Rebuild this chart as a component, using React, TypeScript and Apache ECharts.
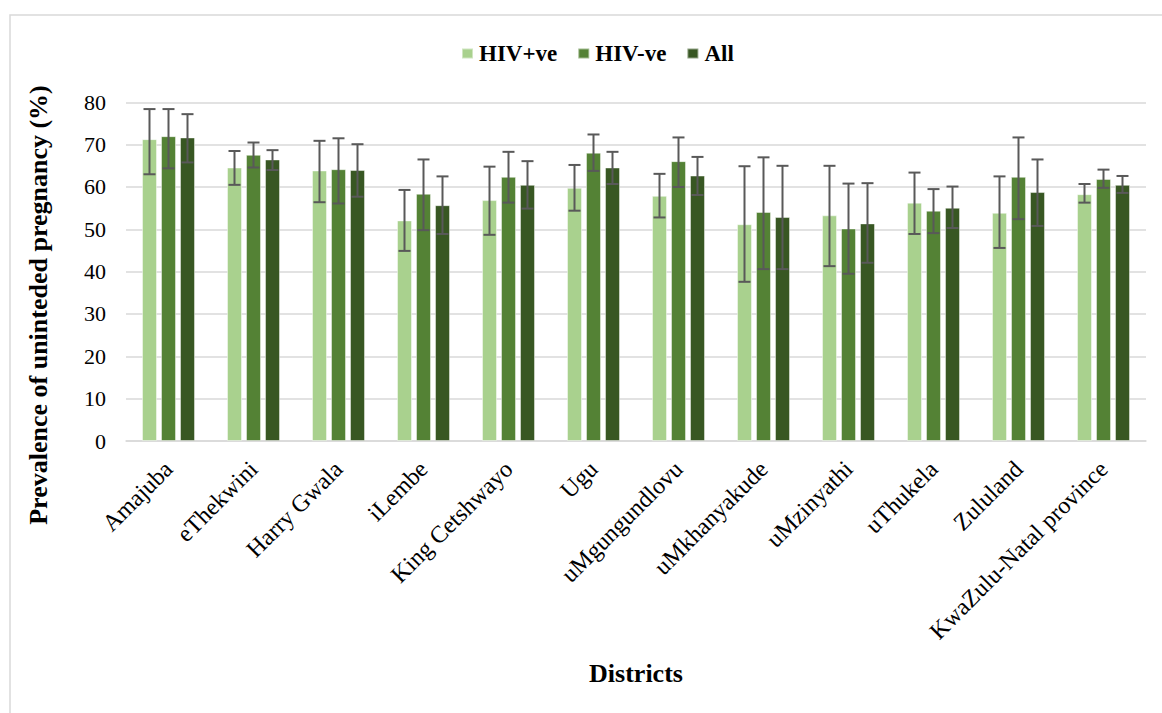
import React, { useEffect, useRef } from "react";
import * as echarts from "echarts";

const categories = [
  "Amajuba",
  "eThekwini",
  "Harry Gwala",
  "iLembe",
  "King Cetshwayo",
  "Ugu",
  "uMgungundlovu",
  "uMkhanyakude",
  "uMzinyathi",
  "uThukela",
  "Zululand",
  "KwaZulu-Natal province",
];

const seriesNames = ["HIV+ve", "HIV-ve", "All"];

const hivPos = [71.3, 64.6, 63.9, 52.1, 56.9, 59.8, 57.9, 51.2, 53.3, 56.3, 53.9, 58.3];
const hivPosLow = [63.0, 60.5, 56.4, 44.9, 48.7, 54.4, 52.8, 37.6, 41.3, 48.9, 45.6, 56.3];
const hivPosHigh = [78.4, 68.5, 70.9, 59.3, 64.8, 65.2, 63.1, 64.9, 65.0, 63.4, 62.5, 60.7];

const hivNeg = [72.0, 67.6, 64.2, 58.4, 62.4, 68.1, 66.1, 54.1, 50.2, 54.4, 62.4, 61.9];
const hivNegLow = [64.4, 64.6, 56.1, 49.8, 56.3, 63.8, 60.0, 40.6, 39.5, 49.1, 52.4, 59.8];
const hivNegHigh = [78.4, 70.5, 71.5, 66.5, 68.3, 72.4, 71.7, 67.0, 60.8, 59.5, 71.7, 64.1];

const allVals = [71.7, 66.5, 64.0, 55.7, 60.5, 64.6, 62.7, 52.9, 51.4, 55.1, 58.8, 60.5];
const allLow = [65.8, 64.0, 57.7, 48.9, 54.9, 60.7, 58.1, 40.6, 42.1, 50.3, 50.8, 58.6];
const allHigh = [77.2, 68.7, 70.1, 62.5, 66.1, 68.3, 67.1, 65.0, 60.9, 60.1, 66.5, 62.6];

const yTicks = [0, 10, 20, 30, 40, 50, 60, 70, 80];

const colors = ["#A9D18E", "#548235", "#385723"];
const FONT = "'Liberation Serif', 'Times New Roman', serif";
const BAR_W = 15;
const BAR_STEP = 19;

function errSeries(low: number[], high: number[], offset: number) {
  return {
    type: "custom",
    silent: true,
    z: 10,
    data: low.map((l, i) => [i, l, high[i]]),
    encode: { x: 0, y: [1, 2] },
    renderItem: (params: any, api: any) => {
      const idx = api.value(0);
      const lo = api.coord([idx, api.value(1)]);
      const hi = api.coord([idx, api.value(2)]);
      const x = lo[0] + offset;
      const cap = 6;
      const style = { stroke: "#595959", lineWidth: 2 };
      return {
        type: "group",
        children: [
          { type: "line", shape: { x1: x, y1: lo[1], x2: x, y2: hi[1] }, style },
          { type: "line", shape: { x1: x - cap, y1: hi[1], x2: x + cap, y2: hi[1] }, style },
          { type: "line", shape: { x1: x - cap, y1: lo[1], x2: x + cap, y2: lo[1] }, style },
        ],
      };
    },
  };
}

export default function App() {
  const ref = useRef<HTMLDivElement>(null);
  useEffect(() => {
    if (!ref.current) return;
    const chart = echarts.init(ref.current, null, { renderer: "svg" });
    const values = [hivPos, hivNeg, allVals];
    chart.setOption({
      animation: false,
      backgroundColor: "#fff",
      textStyle: { fontFamily: FONT },
      grid: { left: 126, right: 16, top: 102.3, bottom: 272 },
      legend: {
        data: seriesNames,
        left: 456,
        top: 37,
        itemWidth: 11,
        itemHeight: 10,
        itemGap: 20,
        icon: "rect",
        textStyle: { fontFamily: FONT, fontSize: 23, fontWeight: "bold", color: "#000", padding: [0, 0, 0, 1] },
      },
      xAxis: {
        type: "category",
        data: categories,
        axisLine: { lineStyle: { color: "#d9d9d9", width: 1.5 } },
        axisTick: { show: false },
        axisLabel: {
          rotate: 45,
          interval: 0,
          margin: 24,
          fontFamily: FONT,
          fontSize: 24,
          color: "#000",
        },
      },
      yAxis: {
        type: "value",
        min: 0,
        max: 80,
        interval: 10,
        axisLine: { show: false },
        axisTick: { show: false },
        splitLine: { lineStyle: { color: "#d9d9d9", width: 1.5 } },
        axisLabel: {
          margin: 20,
          fontFamily: FONT,
          fontSize: 22,
          color: "#000",
          formatter: (v: number) => (yTicks.includes(v) ? String(v) : ""),
        },
      },
      graphic: [
        {
          type: "rect",
          shape: { x: 10, y: 15, width: 1200, height: 800 },
          style: { fill: "none", stroke: "#d9d9d9", lineWidth: 1.5 },
          silent: true,
        },
        {
          type: "text",
          x: 38,
          y: 305,
          rotation: Math.PI / 2,
          style: {
            text: "Prevalence of uninteded pregnancy (%)",
            fontFamily: FONT,
            fontSize: 26,
            fontWeight: "bold",
            fill: "#000",
            textAlign: "center",
            textVerticalAlign: "middle",
          },
        },
        {
          type: "text",
          x: 636,
          y: 673,
          style: {
            text: "Districts",
            fontFamily: FONT,
            fontSize: 26,
            fontWeight: "bold",
            fill: "#000",
            textAlign: "center",
            textVerticalAlign: "middle",
          },
        },
      ],
      series: [
        ...seriesNames.map((name, i) => ({
          name,
          type: "bar",
          data: values[i],
          barWidth: BAR_W,
          barGap: "26.67%",
          itemStyle: { color: colors[i], borderColor: "rgba(255,255,255,0.45)", borderWidth: 1 },
        })),
        errSeries(hivPosLow, hivPosHigh, -BAR_STEP),
        errSeries(hivNegLow, hivNegHigh, 0),
        errSeries(allLow, allHigh, BAR_STEP),
      ],
    });
    return () => chart.dispose();
  }, []);
  return (
    <div
      ref={ref}
      style={{ position: "absolute", left: 0, top: 0, width: 1162, height: 713 }}
    />
  );
}
